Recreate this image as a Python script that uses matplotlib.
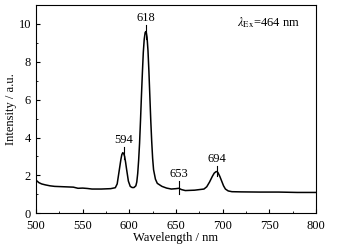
import numpy as np
import matplotlib.pyplot as plt
from matplotlib.ticker import MultipleLocator

plt.rcParams['font.family'] = ['Liberation Serif', 'DejaVu Serif']
plt.rcParams['mathtext.fontset'] = 'stix'

# emission spectrum
wl = [500, 503, 506, 510, 515, 520, 530, 540, 545, 550, 555, 560, 570, 580, 585,
      587, 589, 591, 592, 593, 594, 595, 596, 597, 599, 601, 603, 605, 607, 608,
      609, 610, 611, 612, 613, 614, 615, 616, 617, 618, 619, 620, 621, 622, 623,
      624, 625, 626, 628, 630, 635, 640, 645, 650, 653, 656, 660, 670, 680, 683,
      686, 689, 691, 693, 694, 695, 697, 699, 701, 703, 706, 710, 720, 740, 760,
      780, 800]
inten = [1.75, 1.62, 1.55, 1.5, 1.45, 1.42, 1.4, 1.38, 1.32, 1.33, 1.31, 1.28, 1.28, 1.3, 1.35,
         1.55, 2.2, 2.85, 3.1, 3.2, 3.15, 3.0, 2.7, 2.35, 1.7, 1.42, 1.36, 1.36, 1.45, 1.65,
         2.1, 2.8, 3.7, 4.9, 6.2, 7.4, 8.5, 9.2, 9.55, 9.6, 9.3, 8.6, 7.5, 6.2, 4.9,
         3.8, 2.9, 2.3, 1.8, 1.58, 1.42, 1.33, 1.28, 1.3, 1.32, 1.25, 1.2, 1.22, 1.28, 1.4,
         1.65, 1.95, 2.12, 2.2, 2.2, 2.15, 1.95, 1.7, 1.45, 1.28, 1.18, 1.14, 1.13, 1.12, 1.12,
         1.1, 1.1]

peaks = [594, 618, 653, 694]
mark_lo = [2.85, 9.2, 1.0, 1.95]
mark_hi = [3.5, 9.95, 1.7, 2.5]

fig = plt.figure(figsize=(3.43, 2.48), dpi=100)
ax = fig.add_axes([0.105, 0.14, 0.816, 0.84])
ax.plot(wl, inten, color='black', lw=1.1)

for p, lo, hi in zip(peaks, mark_lo, mark_hi):
    ax.plot([p, p], [lo, hi], color='black', lw=0.8)
    ax.text(p, hi + 0.05, str(p), ha='center', va='bottom', fontsize=9)

ax.text(715, 10.05, r'$\mathit{\lambda}_{\rm Ex}$=464 nm', ha='left', va='center', fontsize=9)

ax.set_xlim(500, 800)
ax.set_ylim(0, 11)
ax.xaxis.set_major_locator(MultipleLocator(50))
ax.xaxis.set_minor_locator(MultipleLocator(25))
ax.yaxis.set_major_locator(MultipleLocator(2))
ax.yaxis.set_minor_locator(MultipleLocator(1))
ax.tick_params(which='both', direction='in', labelsize=9)
ax.tick_params(axis='x', pad=4.5)
ax.tick_params(axis='y', pad=3.5)
ax.tick_params(which='major', length=3)
ax.tick_params(which='minor', length=1.5)
ax.set_xlabel('Wavelength / nm', fontsize=9, labelpad=0)
ax.set_ylabel('Intensity / a.u.', fontsize=9, labelpad=1)

fig.savefig('out.png', dpi=100)
